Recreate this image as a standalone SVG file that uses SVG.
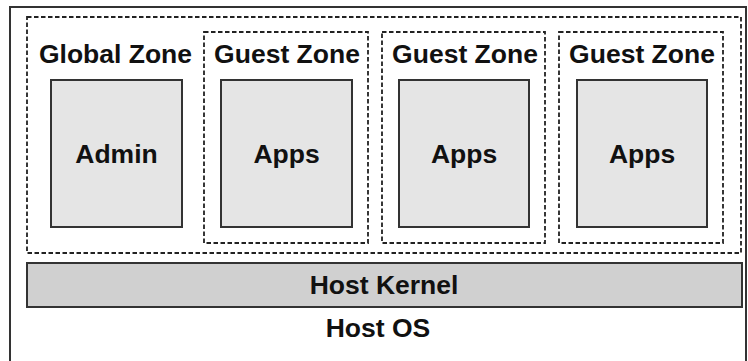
<svg xmlns="http://www.w3.org/2000/svg" width="748" height="361" viewBox="0 0 748 361">
<style>
text{font-family:"Liberation Sans",Arial,sans-serif;font-weight:bold;font-size:26.5px;fill:#111;text-anchor:middle}
.dash{fill:none;stroke:#222;stroke-width:1.8;stroke-dasharray:4.5 2.5}
.box{fill:#e5e5e5;stroke:#333;stroke-width:2}
</style>
<rect width="748" height="361" fill="#fff"/>
<g id="host-os">
<rect x="10" y="7" width="736" height="362" fill="none" stroke="#333" stroke-width="2"/>
<text x="378" y="337">Host OS</text>
</g>
<g id="zones-container">
<rect class="dash" x="27" y="17" width="714" height="236"/>
</g>
<g id="global-zone">
<text x="115.5" y="63">Global Zone</text>
<g id="admin"><rect class="box" x="51" y="80" width="131" height="147"/><text x="116.5" y="163">Admin</text></g>
</g>
<g id="guest-zone-1">
<rect class="dash" x="204" y="32" width="164" height="211"/>
<text x="287" y="63">Guest Zone</text>
<g id="apps-1"><rect class="box" x="221" y="80" width="131" height="147"/><text x="286.5" y="163">Apps</text></g>
</g>
<g id="guest-zone-2">
<rect class="dash" x="382" y="32" width="163" height="211"/>
<text x="465" y="63">Guest Zone</text>
<g id="apps-2"><rect class="box" x="399" y="80" width="130" height="147"/><text x="464" y="163">Apps</text></g>
</g>
<g id="guest-zone-3">
<rect class="dash" x="559" y="32" width="164" height="211"/>
<text x="642" y="63">Guest Zone</text>
<g id="apps-3"><rect class="box" x="577" y="80" width="130" height="147"/><text x="642" y="163">Apps</text></g>
</g>
<g id="host-kernel">
<rect x="27" y="263" width="715" height="44" fill="#d0d0d0" stroke="#333" stroke-width="2"/>
<text x="384" y="294">Host Kernel</text>
</g>
<g id="connectors"/>
</svg>
